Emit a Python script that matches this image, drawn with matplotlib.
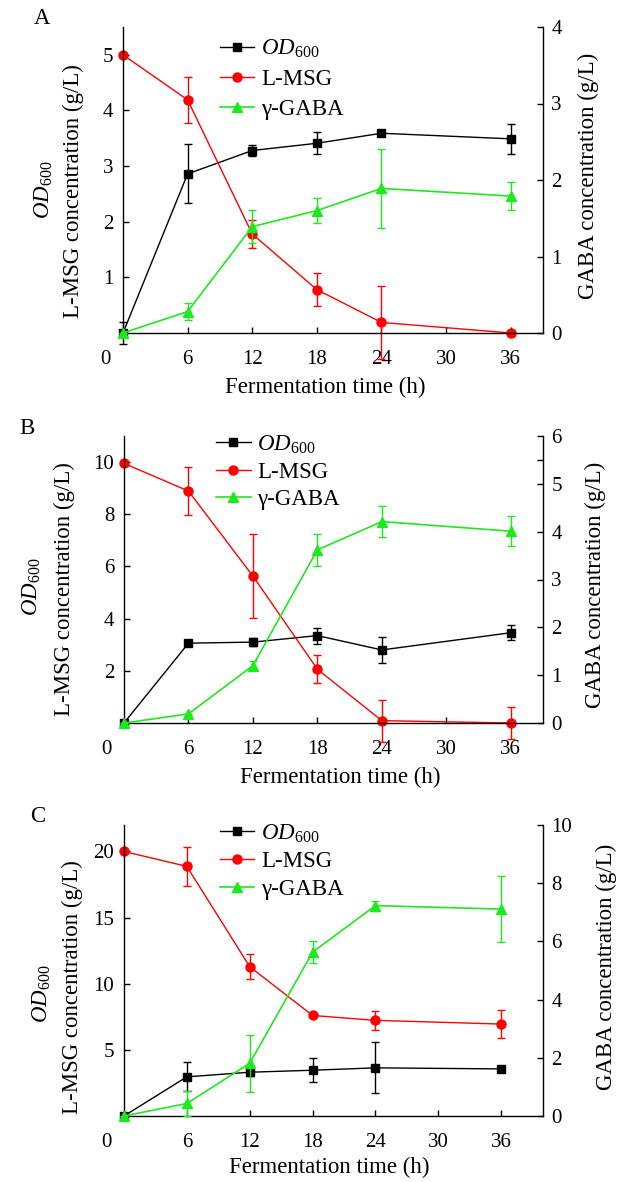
import matplotlib
matplotlib.use("Agg")
import matplotlib.pyplot as plt
from matplotlib.lines import Line2D

plt.rcParams['font.family'] = ['Liberation Serif', 'DejaVu Serif']
plt.rcParams['mathtext.fontset'] = 'custom'
plt.rcParams['mathtext.rm'] = 'Liberation Serif'
plt.rcParams['mathtext.it'] = 'Liberation Serif:italic'

time_h = [0, 6, 12, 18, 24, 36]

# Panel A
A_od = [0.0, 2.86, 3.28, 3.41, 3.59, 3.49]
A_od_err = [0.2, 0.53, 0.1, 0.2, 0.04, 0.27]
A_msg = [5.0, 4.19, 1.78, 0.78, 0.19, 0.0]
A_msg_err = [0.0, 0.41, 0.25, 0.3, 0.65, 0.05]
A_gaba = [0.0, 0.28, 1.39, 1.60, 1.89, 1.79]
A_gaba_err = [0.0, 0.11, 0.22, 0.16, 0.52, 0.18]

# Panel B
B_od = [0.0, 3.06, 3.10, 3.35, 2.80, 3.46]
B_od_err = [0.0, 0.08, 0.15, 0.31, 0.50, 0.29]
B_msg = [9.95, 8.89, 5.63, 2.06, 0.09, 0.0]
B_msg_err = [0.0, 0.93, 1.6, 0.53, 0.8, 0.6]
B_gaba = [0.0, 0.19, 1.20, 3.62, 4.21, 4.01]
B_gaba_err = [0.0, 0.0, 0.1, 0.33, 0.33, 0.31]

# Panel C
C_od = [0.0, 2.96, 3.31, 3.46, 3.64, 3.56]
C_od_err = [0.0, 1.1, 0.3, 0.9, 1.93, 0.1]
C_msg = [20.0, 18.87, 11.29, 7.6, 7.23, 6.95]
C_msg_err = [0.0, 1.45, 0.95, 0.15, 0.7, 1.03]
C_gaba = [0.0, 0.43, 1.81, 5.63, 7.23, 7.11]
C_gaba_err = [0.0, 0.43, 0.99, 0.37, 0.17, 1.13]

panels = [
    dict(letter='A', od=A_od, od_err=A_od_err, msg=A_msg, msg_err=A_msg_err,
         gaba=A_gaba, gaba_err=A_gaba_err, ylim=5.5, y2lim=4, xlim=39,
         lticks=[1, 2, 3, 4, 5], rticks=[0, 1, 2, 3, 4], rminor=[]),
    dict(letter='B', od=B_od, od_err=B_od_err, msg=B_msg, msg_err=B_msg_err,
         gaba=B_gaba, gaba_err=B_gaba_err, ylim=11, y2lim=6, xlim=39,
         lticks=[2, 4, 6, 8, 10], rticks=[0, 1, 2, 3, 4, 5, 6], rminor=[5.5]),
    dict(letter='C', od=C_od, od_err=C_od_err, msg=C_msg, msg_err=C_msg_err,
         gaba=C_gaba, gaba_err=C_gaba_err, ylim=22, y2lim=10, xlim=40,
         lticks=[5, 10, 15, 20], rticks=[0, 2, 4, 6, 8, 10], rminor=[]),
]

W, H = 627, 1182
fig = plt.figure(figsize=(W / 100, H / 100), dpi=100)

# axes boxes in pixels: left, right, top, bottom
boxes = [(123, 543, 27, 333), (124, 543, 436, 723), (124, 543, 825, 1116)]
letter_pos = [(42, 18), (27, 428), (38, 817)]
od_lab = [(44, 190), (32, 587), (42, 994)]
msg_lab = [(73, 191), (64, 589), (72, 987)]
gaba_lab = [(588, 176), (595, 585), (606, 967)]
xlab = [(325, 387), (340, 777), (329, 1167)]
leg_anchor = [(0.231, 0.965), (0.22, 1.009), (0.229, 1.009)]
leg_spacing = [0.40, 0.27, 0.28]

TICK_FS = 15
LAB_FS = 16.5
BLACK, RED, GREEN = '#000000', '#FF0000', '#1EE81E'
od_text = r'$\mathit{OD}_{\mathrm{600}}$'


def fx(px):
    return px / W


def fy(py):
    return 1 - py / H


def noclip(cont):
    for ch in cont.get_children():
        ch.set_clip_on(False)


styles = [dict(color=BLACK, marker='s', ms=5.5, lw=1.0),
          dict(color=RED, marker='o', ms=6.5, lw=1.0),
          dict(color=GREEN, marker='^', ms=7, lw=1.2)]

for i, p in enumerate(panels):
    l, r, t, b = boxes[i]
    ax = fig.add_axes([fx(l), fy(b), (r - l) / W, (b - t) / H])
    ax2 = ax.twinx()
    ax.set_zorder(1)
    ax2.set_zorder(2)
    ax2.patch.set_visible(False)

    c1 = ax.errorbar(time_h, p['od'], yerr=p['od_err'], elinewidth=1.0, capsize=3,
                     capthick=1.0, **styles[0])
    c2 = ax.errorbar(time_h, p['msg'], yerr=p['msg_err'], elinewidth=1.0, capsize=3,
                     capthick=1.0, **styles[1])
    c3 = ax2.errorbar(time_h, p['gaba'], yerr=p['gaba_err'], elinewidth=1.0, capsize=3,
                      capthick=1.0, **styles[2])
    for c in (c1, c2, c3):
        noclip(c)

    ax.set_xlim(0, p['xlim'])
    ax.set_ylim(0, p['ylim'])
    ax2.set_ylim(0, p['y2lim'])

    ax.set_xticks([6, 12, 18, 24, 30, 36])
    ax.set_yticks(p['lticks'])
    ax2.set_yticks(p['rticks'])
    if p['rminor']:
        ax2.set_yticks(p['rminor'], minor=True)

    for s in ('top', 'right'):
        ax.spines[s].set_visible(False)
    for s in ('top', 'left', 'bottom'):
        ax2.spines[s].set_visible(False)
    for a in (ax, ax2):
        for s in a.spines.values():
            s.set_linewidth(1.0)

    ax.tick_params(axis='x', direction='in', length=4, width=1.0, labelsize=TICK_FS, pad=12)
    ax.tick_params(axis='y', direction='in', length=4, width=1.0, labelsize=TICK_FS, pad=7)
    ax2.tick_params(axis='y', which='both', direction='in', length=4, width=1.0,
                    labelsize=TICK_FS, pad=6)

    # origin label "0"
    ax.annotate('0', xy=(0, 0), xycoords='axes fraction', xytext=(-13, -12),
                textcoords='offset points', ha='center', va='top', fontsize=TICK_FS)

    # labels
    fig.text(fx(letter_pos[i][0]), fy(letter_pos[i][1]), p['letter'], fontsize=LAB_FS,
             ha='center', va='center')
    fig.text(fx(od_lab[i][0]), fy(od_lab[i][1]), od_text, fontsize=LAB_FS, rotation=90,
             ha='center', va='center')
    fig.text(fx(msg_lab[i][0]), fy(msg_lab[i][1]), 'L-MSG concentration (g/L)',
             fontsize=LAB_FS, rotation=90, ha='center', va='center')
    fig.text(fx(gaba_lab[i][0]), fy(gaba_lab[i][1]), 'GABA concentration (g/L)',
             fontsize=LAB_FS, rotation=90, ha='center', va='center')
    fig.text(fx(xlab[i][0]), fy(xlab[i][1]), 'Fermentation time (h)', fontsize=LAB_FS,
             ha='center', va='center')

    handles = [Line2D([], [], **st) for st in styles]
    labels = [od_text, 'L-MSG', 'γ-GABA']
    ax2.legend(handles, labels, loc='upper left', bbox_to_anchor=leg_anchor[i],
               frameon=False, fontsize=LAB_FS, handlelength=1.5, handletextpad=0.3,
               labelspacing=leg_spacing[i], borderpad=0, borderaxespad=0)

fig.savefig('out.png', dpi=100)
